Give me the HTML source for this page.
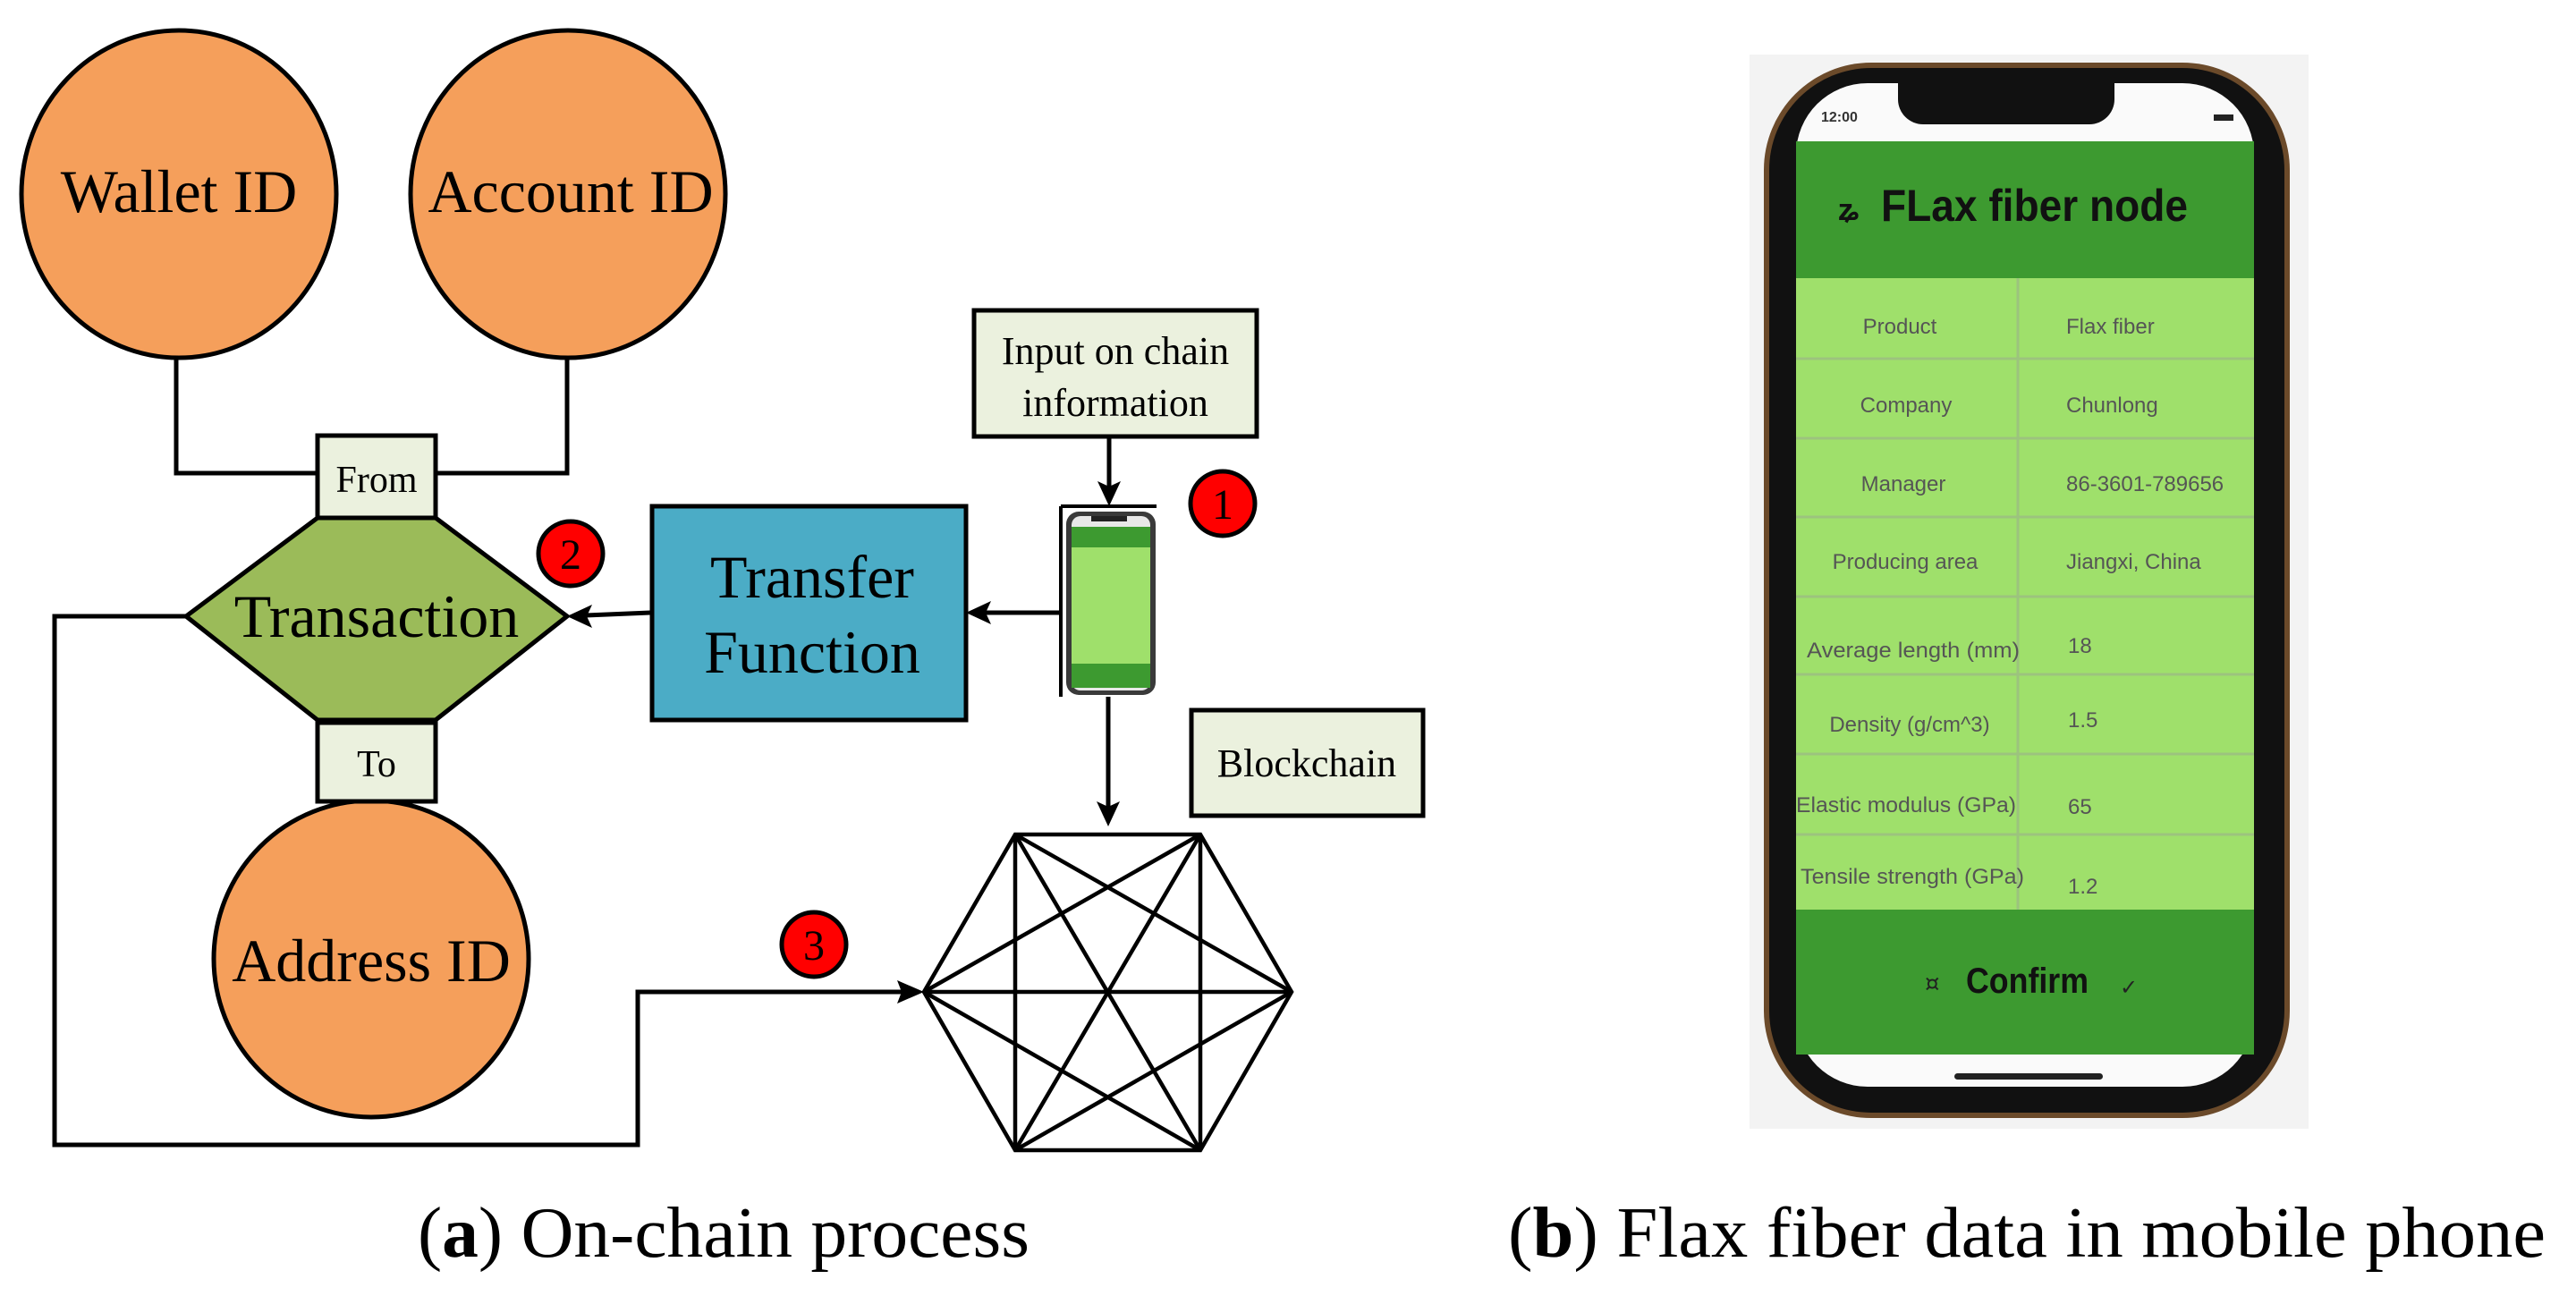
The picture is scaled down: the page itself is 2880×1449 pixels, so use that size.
<!DOCTYPE html>
<html><head><meta charset="utf-8"><style>
html,body{margin:0;padding:0;background:#fff;}
svg{display:block;}
</style></head><body>
<svg width="2880" height="1449" viewBox="0 0 2880 1449" xmlns="http://www.w3.org/2000/svg">
<defs>
<marker id="ah" markerWidth="10" markerHeight="10" refX="9" refY="5" orient="auto" markerUnits="userSpaceOnUse" viewBox="0 0 10 10">
</marker>
</defs>
<g font-family="Liberation Serif, serif" fill="#000">
<!-- connectors -->
<polyline points="197,398 197,529 355,529" fill="none" stroke="#000" stroke-width="5"/>
<polyline points="634,398 634,529 487,529" fill="none" stroke="#000" stroke-width="5"/>
<polyline points="208,689 61,689 61,1280 713,1280 713,1109 1010,1109" fill="none" stroke="#000" stroke-width="5"/>
<polygon points="1033,1109 1003,1096 1008,1109 1003,1122"/>
<line x1="1240" y1="490" x2="1240" y2="545" stroke="#000" stroke-width="5"/>
<polygon points="1240,566 1227,538 1240,544 1253,538"/>
<line x1="1186" y1="685" x2="1100" y2="685" stroke="#000" stroke-width="5"/>
<polygon points="1080,685 1108,672 1102,685 1108,698"/>
<line x1="727" y1="685" x2="655" y2="688" stroke="#000" stroke-width="5"/>
<polygon points="634,689 662,676 656,689 662,702"/>
<line x1="1239" y1="779" x2="1239" y2="902" stroke="#000" stroke-width="5"/>
<polygon points="1239,924 1226,896 1239,902 1252,896"/>

<!-- circles -->
<ellipse cx="200" cy="217" rx="176" ry="183" fill="#f59f5b" stroke="#000" stroke-width="5"/>
<ellipse cx="635" cy="217" rx="176" ry="183" fill="#f59f5b" stroke="#000" stroke-width="5"/>
<ellipse cx="415" cy="1072" rx="176" ry="177" fill="#f59f5b" stroke="#000" stroke-width="5"/>
<text x="200" y="237" font-size="68" text-anchor="middle">Wallet ID</text>
<text x="638" y="237" font-size="68" text-anchor="middle">Account ID</text>
<text x="415" y="1097" font-size="68" text-anchor="middle">Address ID</text>

<!-- transaction -->
<polygon points="355,579 487,579 634,689 487,805 355,805 208,689" fill="#9bbb59" stroke="#000" stroke-width="5"/>
<text x="421" y="712" font-size="68" text-anchor="middle">Transaction</text>
<rect x="355" y="487" width="132" height="92" fill="#ebf1de" stroke="#000" stroke-width="5"/>
<text x="421" y="550" font-size="42" text-anchor="middle">From</text>
<rect x="355" y="808" width="132" height="88" fill="#ebf1de" stroke="#000" stroke-width="5"/>
<text x="421" y="868" font-size="42" text-anchor="middle">To</text>

<!-- transfer -->
<rect x="729" y="566" width="351" height="239" fill="#4bacc6" stroke="#000" stroke-width="5"/>
<text x="908" y="668" font-size="68" text-anchor="middle">Transfer</text>
<text x="908" y="752" font-size="68" text-anchor="middle">Function</text>

<rect x="1089" y="347" width="316" height="141" fill="#ebf1de" stroke="#000" stroke-width="5"/>
<text x="1247" y="407" font-size="44" text-anchor="middle">Input on chain</text>
<text x="1247" y="465" font-size="44" text-anchor="middle">information</text>

<rect x="1332" y="794" width="259" height="118" fill="#ebf1de" stroke="#000" stroke-width="5"/>
<text x="1461" y="868" font-size="44" text-anchor="middle">Blockchain</text>

<!-- small phone -->
<line x1="1186" y1="566" x2="1186" y2="779" stroke="#000" stroke-width="4"/>
<line x1="1186" y1="566" x2="1293" y2="566" stroke="#000" stroke-width="4"/>
<rect x="1192" y="572" width="100" height="205" rx="14" fill="#3a3a3a"/>
<rect x="1198" y="577" width="88" height="195" rx="10" fill="#e8e8e8"/>
<rect x="1198" y="589" width="88" height="23" fill="#3d9a30"/>
<rect x="1198" y="612" width="88" height="130" fill="#9fe06b"/>
<rect x="1198" y="742" width="88" height="27" fill="#3d9a30"/>
<rect x="1220" y="577" width="40" height="6" fill="#222"/>

<!-- red circles -->
<circle cx="1367" cy="563" r="36" fill="#f00" stroke="#000" stroke-width="5"/>
<text x="1367" y="580" font-size="48" text-anchor="middle">1</text>
<circle cx="638" cy="619" r="36" fill="#f00" stroke="#000" stroke-width="5"/>
<text x="638" y="636" font-size="48" text-anchor="middle">2</text>
<circle cx="910" cy="1056" r="36" fill="#f00" stroke="#000" stroke-width="5"/>
<text x="910" y="1073" font-size="48" text-anchor="middle">3</text>

<!-- hexagon K6 -->
<g stroke="#000" stroke-width="4.5" fill="none" stroke-linejoin="miter">
<polygon points="1135,933 1342,933 1444,1109 1342,1286 1135,1286 1033,1109"/>
<line x1="1135" y1="933" x2="1444" y2="1109"/><line x1="1135" y1="933" x2="1342" y2="1286"/><line x1="1135" y1="933" x2="1135" y2="1286"/>
<line x1="1342" y1="933" x2="1135" y2="1286"/><line x1="1342" y1="933" x2="1033" y2="1109"/><line x1="1342" y1="933" x2="1342" y2="1286"/>
<line x1="1444" y1="1109" x2="1135" y2="1286"/><line x1="1444" y1="1109" x2="1033" y2="1109"/>
<line x1="1342" y1="1286" x2="1033" y2="1109"/>
</g>

<text x="467" y="1405" font-size="80" textLength="684" lengthAdjust="spacingAndGlyphs">(<tspan font-weight="bold">a</tspan>) On-chain process</text>
<text x="1686" y="1405" font-size="80" textLength="1160" lengthAdjust="spacingAndGlyphs">(<tspan font-weight="bold">b</tspan>) Flax fiber data in mobile phone</text>
</g>

<!-- big phone -->
<rect x="1956" y="61" width="625" height="1201" fill="#f3f3f3"/>
<rect x="1972" y="70" width="588" height="1180" rx="120" fill="#6b4a2a"/>
<rect x="1978" y="76" width="576" height="1168" rx="114" fill="#111"/>
<rect x="2008" y="93" width="512" height="1122" rx="80" fill="#fafafa"/>
<path d="M2122,93 h242 v18 a28,28 0 0 1 -28,28 h-186 a28,28 0 0 1 -28,-28z" fill="#111"/>
<text x="2036" y="136" font-family="Liberation Sans, sans-serif" font-size="16" font-weight="bold" fill="#333">12:00</text>
<rect x="2475" y="128" width="22" height="7" fill="#222"/>
<rect x="2008" y="158" width="512" height="153" fill="#3d9a30"/>
<text x="2055" y="246" font-family="Liberation Sans, sans-serif" font-size="34" font-weight="bold" fill="#111">ʑ</text>
<text x="2103" y="247" font-family="Liberation Sans, sans-serif" font-size="50" font-weight="bold" fill="#111" textLength="343" lengthAdjust="spacingAndGlyphs">FLax fiber node</text>
<rect x="2008" y="311" width="512" height="706" fill="#9fe06b"/>
<g stroke="#9cc37e" stroke-width="3">
<line x1="2008" y1="401" x2="2520" y2="401"/><line x1="2008" y1="490" x2="2520" y2="490"/>
<line x1="2008" y1="578" x2="2520" y2="578"/><line x1="2008" y1="667" x2="2520" y2="667"/>
<line x1="2008" y1="754" x2="2520" y2="754"/><line x1="2008" y1="843" x2="2520" y2="843"/>
<line x1="2008" y1="933" x2="2520" y2="933"/>
<line x1="2256" y1="311" x2="2256" y2="1017"/>
</g>
<g font-family="Liberation Sans, sans-serif" font-size="24" fill="#555">
<text x="2124" y="373" text-anchor="middle">Product</text><text x="2310" y="373">Flax fiber</text>
<text x="2131" y="461" text-anchor="middle">Company</text><text x="2310" y="461">Chunlong</text>
<text x="2128" y="549" text-anchor="middle">Manager</text><text x="2310" y="549">86-3601-789656</text>
<text x="2130" y="636" text-anchor="middle">Producing area</text><text x="2310" y="636">Jiangxi, China</text>
<text x="2139" y="735" text-anchor="middle" textLength="238" lengthAdjust="spacingAndGlyphs">Average length (mm)</text><text x="2312" y="730">18</text>
<text x="2135" y="818" text-anchor="middle">Density (g/cm^3)</text><text x="2312" y="813">1.5</text>
<text x="2131" y="908" text-anchor="middle" textLength="246" lengthAdjust="spacingAndGlyphs">Elastic modulus (GPa)</text><text x="2312" y="910">65</text>
<text x="2138" y="988" text-anchor="middle" textLength="250" lengthAdjust="spacingAndGlyphs">Tensile strength (GPa)</text><text x="2312" y="999">1.2</text>
</g>
<rect x="2008" y="1017" width="512" height="162" fill="#3d9a30"/>
<text x="2152" y="1108" font-family="DejaVu Sans, sans-serif" font-size="26" fill="#222">¤</text>
<text x="2198" y="1110" font-family="Liberation Sans, sans-serif" font-size="40" font-weight="bold" fill="#111" textLength="137" lengthAdjust="spacingAndGlyphs">Confirm</text>
<text x="2370" y="1112" font-family="DejaVu Sans, sans-serif" font-size="24" fill="#222">✓</text>
<rect x="2185" y="1200" width="166" height="7" rx="3.5" fill="#222"/>
</svg>
</body></html>
